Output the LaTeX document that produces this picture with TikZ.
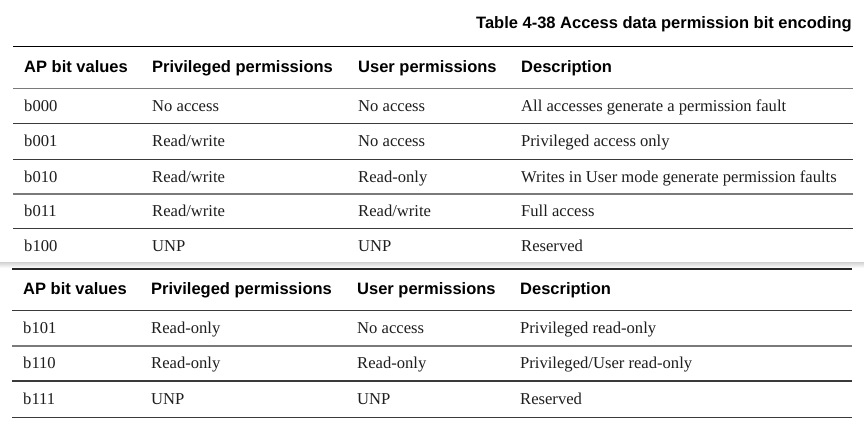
\documentclass[tikz,border=0pt]{standalone}
\usepackage{fontspec}
\setmainfont{Liberation Serif}
\setsansfont{Liberation Sans}
\usepackage{tikz}
\usetikzlibrary{positioning}
\definecolor{inkgray}{HTML}{1E1E1E}
\definecolor{rulegray}{HTML}{3A3A3A}
\definecolor{headrulegray}{HTML}{7A7A7A}

\begin{document}
\begin{tikzpicture}[x=1pt,y=-1pt]
                    \tikzstyle{every node}=[inner sep=0pt, font=\fontsize{16.6}{19}\selectfont]
                    \tikzstyle{head} = [anchor=base west, text=black, font=\sffamily\bfseries\fontsize{16.5}{19}\selectfont]
                    \tikzstyle{cell} = [anchor=base west, text=inkgray]
                    \tikzstyle{rule} = [draw=rulegray, line width=1.1pt]
                    \tikzstyle{headrule} = [draw=headrulegray, line width=1.8pt]

                    \useasboundingbox (0,0) rectangle (864,424);
                    \fill[white] (0,0) rectangle (864,424);
                    % shadow under the upper card
                    \shade[top color=black!18, bottom color=white] (0,262) rectangle (864,268);

                    \node[head, anchor=base east](title) at (852,28.5) {Table 4-38 Access data permission bit encoding};

                    % upper part
                    \draw[rule, draw=black, line width=1.4pt] (13,46.7) -- (853,46.7);
                    \node[head](h1) at (24,72) {AP bit values};
                    \node[head](h2) at (152,72) {Privileged permissions};
                    \node[head](h3) at (358,72) {User permissions};
                    \node[head](h4) at (521,72) {Description};
                    \draw[headrule] (13,88.5) -- (853,88.5);

                    \node[cell](ap0) at (24,111) {b000};
                    \node[cell](pr0) at (152,111) {No access};
                    \node[cell](us0) at (358,111) {No access};
                    \node[cell](de0) at (521,111) {All accesses generate a permission fault};
                    \draw[rule] (13,123.5) -- (853,123.5);

                    \node[cell](ap1) at (24,146.7) {b001};
                    \node[cell](pr1) at (152,146.7) {Read/write};
                    \node[cell](us1) at (358,146.7) {No access};
                    \node[cell](de1) at (521,146.7) {Privileged access only};
                    \draw[rule] (13,159.3) -- (853,159.3);

                    \node[cell](ap2) at (24,182.2) {b010};
                    \node[cell](pr2) at (152,182.2) {Read/write};
                    \node[cell](us2) at (358,182.2) {Read-only};
                    \node[cell](de2) at (521,182.2) {Writes in User mode generate permission faults};
                    \draw[rule, draw=headrulegray, line width=1.6pt] (13,194.2) -- (853,194.2);

                    \node[cell](ap3) at (24,216.8) {b011};
                    \node[cell](pr3) at (152,216.8) {Read/write};
                    \node[cell](us3) at (358,216.8) {Read/write};
                    \node[cell](de3) at (521,216.8) {Full access};
                    \draw[rule] (13,228.5) -- (853,228.5);

                    \node[cell](ap4) at (24,251.7) {b100};
                    \node[cell](pr4) at (152,251.7) {UNP};
                    \node[cell](us4) at (358,251.7) {UNP};
                    \node[cell](de4) at (521,251.7) {Reserved};

                    % lower part
                    \draw[rule, draw=black!85, line width=1.3pt] (12,269) -- (852,269);
                    \node[head](g1) at (23,294) {AP bit values};
                    \node[head](g2) at (151,294) {Privileged permissions};
                    \node[head](g3) at (357,294) {User permissions};
                    \node[head](g4) at (520,294) {Description};
                    \draw[rule] (12,310.8) -- (852,310.8);

                    \node[cell](ap5) at (23,333.3) {b101};
                    \node[cell](pr5) at (151,333.3) {Read-only};
                    \node[cell](us5) at (357,333.3) {No access};
                    \node[cell](de5) at (520,333.3) {Privileged read-only};
                    \draw[rule, draw=headrulegray, line width=1.6pt] (12,346) -- (852,346);

                    \node[cell](ap6) at (23,368.3) {b110};
                    \node[cell](pr6) at (151,368.3) {Read-only};
                    \node[cell](us6) at (357,368.3) {Read-only};
                    \node[cell](de6) at (520,368.3) {Privileged/User read-only};
                    \draw[rule] (12,381) -- (852,381);

                    \node[cell](ap7) at (23,404) {b111};
                    \node[cell](pr7) at (151,404) {UNP};
                    \node[cell](us7) at (357,404) {UNP};
                    \node[cell](de7) at (520,404) {Reserved};
                    \draw[rule] (12,417.3) -- (852,417.3);

            \end{tikzpicture}
\end{document}
